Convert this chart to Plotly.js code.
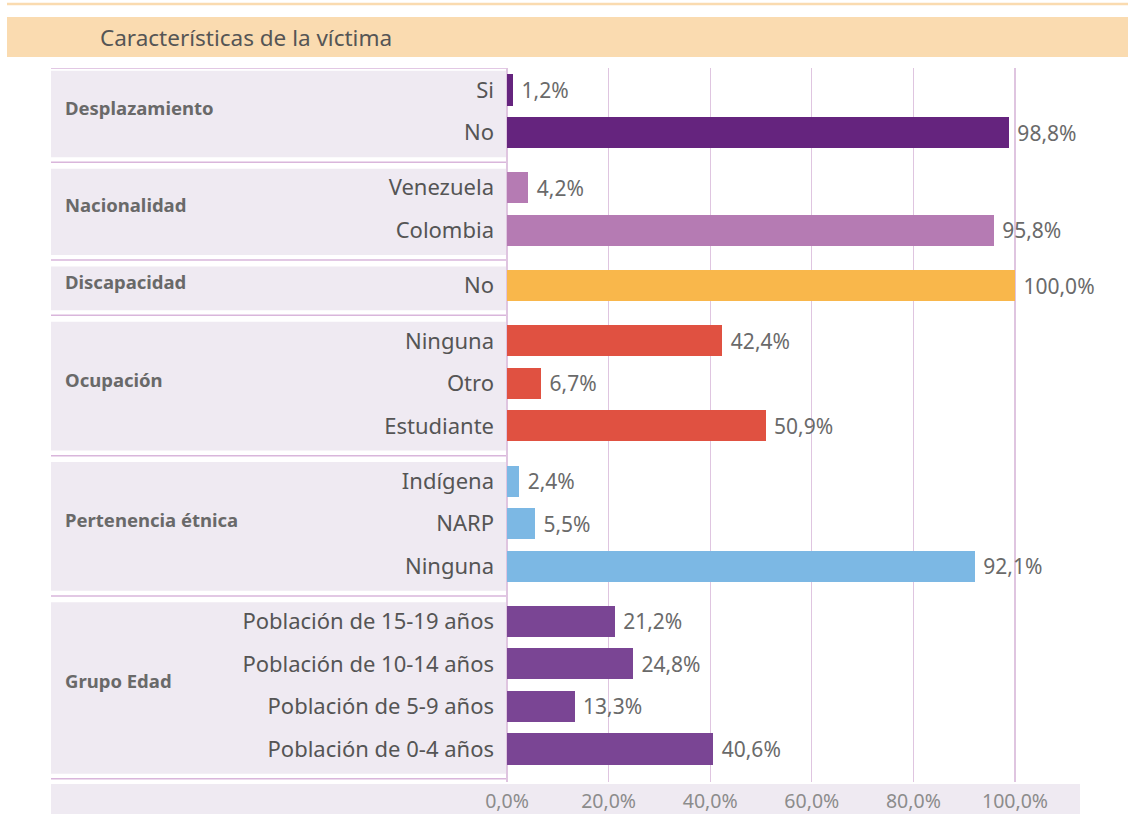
<!DOCTYPE html>
<html><head><meta charset="utf-8">
<script src="https://cdn.plot.ly/plotly-3.0.1.min.js"></script>
<style>html,body{margin:0;padding:0;background:#fff}#chart{width:1128px;height:814px}</style>
</head><body><div id="chart"></div>
<script>
// ---- data ----
const groupNames = ['Desplazamiento','Nacionalidad','Discapacidad','Ocupación','Pertenencia étnica','Grupo Edad'];
const desplazamientoCats = ['Si','No'];
const desplazamientoVals = [1.2, 98.8];
const nacionalidadCats = ['Venezuela','Colombia'];
const nacionalidadVals = [4.2, 95.8];
const discapacidadCats = ['No'];
const discapacidadVals = [100.0];
const ocupacionCats = ['Ninguna','Otro','Estudiante'];
const ocupacionVals = [42.4, 6.7, 50.9];
const etniaCats = ['Indígena','NARP','Ninguna'];
const etniaVals = [2.4, 5.5, 92.1];
const edadCats = ['Población de 15-19 años','Población de 10-14 años','Población de 5-9 años','Población de 0-4 años'];
const edadVals = [21.2, 24.8, 13.3, 40.6];
const groupColors = ['#65247E','#B57BB3','#F9B74B','#E05141','#7CB8E4','#7A4594'];
const xTicks = [0,20,40,60,80,100];

const groupCats = [desplazamientoCats, nacionalidadCats, discapacidadCats, ocupacionCats, etniaCats, edadCats];
const groupVals = [desplazamientoVals, nacionalidadVals, discapacidadVals, ocupacionVals, etniaVals, edadVals];

// ---- layout geometry ----
const W = 1128, H = 814;
const mL = 507, mR = 48, mT = 68, mB = 32;
const plotW = W - mL - mR, plotH = H - mT - mB;
const GAP = 0.3;
const px2paperX = px => (px - mL) / plotW;
const px2paperY = py => (H - mB - py) / plotH;

const traces = [];
const tickvals = [], ticktext = [];
const shapes = [], annotations = [];
const panelBg = '#EFEAF2', lineCol = '#D9B6DB';
let row = 0;
const groupSpans = [];
groupCats.forEach((cats, g) => {
  const pos = cats.map((c, k) => row + k + g * GAP);
  row += cats.length;
  pos.forEach((p, k) => { tickvals.push(p); ticktext.push(cats[k]); });
  groupSpans.push([pos[0], pos[pos.length - 1]]);
  traces.push({
    type: 'bar', orientation: 'h',
    x: groupVals[g], y: pos,
    width: 0.73,
    marker: {color: groupColors[g]},
    texttemplate: '\u00a0%{x:.1f}%', textposition: 'outside', cliponaxis: false,
    textfont: {size: 21, color: '#6A6A6A'},
    hoverinfo: 'skip', showlegend: false
  });
});

const lastPos = groupSpans[groupSpans.length - 1][1];
const yTop = -22 / 42.52, yBot = lastPos + 33 / 42.52;
const panelX0 = px2paperX(51);

groupSpans.forEach(([p0, p1], g) => {
  shapes.push({type: 'rect', xref: 'paper', yref: 'y', x0: panelX0, x1: 0, y0: p0 - 0.45, y1: p1 + 0.58,
    fillcolor: panelBg, line: {width: 0}, layer: 'below'});
  shapes.push({type: 'line', xref: 'paper', yref: 'y', x0: panelX0, x1: 0, y0: p1 + 0.70, y1: p1 + 0.70,
    line: {color: lineCol, width: 1.5}, layer: 'below'});
  if (g === 0) shapes.push({type: 'line', xref: 'paper', yref: 'y', x0: panelX0, x1: 0, y0: p0 - 0.52, y1: p0 - 0.52,
    line: {color: lineCol, width: 1.5}, layer: 'below'});
  annotations.push({xref: 'paper', yref: 'y', x: px2paperX(63), y: (p0 + p1) / 2 - 0.1, xanchor: 'left', yanchor: 'middle',
    text: '<b>' + groupNames[g] + '</b>', showarrow: false, font: {size: 18.5, color: '#696969'}});
});

// bottom tick band
shapes.push({type: 'rect', xref: 'paper', yref: 'paper', x0: panelX0, x1: px2paperX(1080), y0: px2paperY(814), y1: px2paperY(784),
  fillcolor: panelBg, line: {width: 0}, layer: 'below'});
// title band
shapes.push({type: 'rect', xref: 'paper', yref: 'paper', x0: px2paperX(7), x1: px2paperX(1128), y0: px2paperY(57), y1: px2paperY(17),
  fillcolor: '#FADBB0', line: {width: 0}, layer: 'below'});
shapes.push({type: 'line', xref: 'paper', yref: 'paper', x0: px2paperX(7), x1: px2paperX(1128), y0: px2paperY(4), y1: px2paperY(4),
  line: {color: '#FADBB0', width: 2.5}, layer: 'below'});

const xTickText = xTicks.map(v => v.toFixed(1).replace('.', ',') + '%');

const layout = {
  width: W, height: H,
  margin: {l: mL, r: mR, t: mT, b: mB, pad: 0},
  paper_bgcolor: '#ffffff', plot_bgcolor: 'rgba(0,0,0,0)',
  separators: ',.',
  font: {family: '"Noto Sans", "Open Sans", sans-serif', color: '#595959'},
  title: {text: 'Características de la víctima', x: 100 / W, xanchor: 'left', xref: 'container',
    y: 1 - 38 / H, yanchor: 'middle', yref: 'container', font: {size: 22.5, color: '#555555'}},
  xaxis: {range: [0, 100 * plotW / 508], tickmode: 'array', tickvals: xTicks, ticktext: xTickText,
    showgrid: true, gridcolor: '#DFC5E0', gridwidth: 1.2, zeroline: true, zerolinecolor: '#DFC5E0', zerolinewidth: 1.2,
    showline: false, ticks: '', ticklabelstandoff: 5, tickfont: {size: 19.5, color: '#8C8C8C'}, fixedrange: true},
  yaxis: {range: [yBot, yTop], tickvals: tickvals, ticktext: ticktext, showgrid: false, zeroline: false,
    showline: false, ticks: '', ticklabelstandoff: 12, tickfont: {size: 22, color: '#555555'}, fixedrange: true},
  shapes: shapes, annotations: annotations, bargap: 0
};

Plotly.newPlot('chart', traces, layout, {displayModeBar: false, staticPlot: true});
</script></body></html>
